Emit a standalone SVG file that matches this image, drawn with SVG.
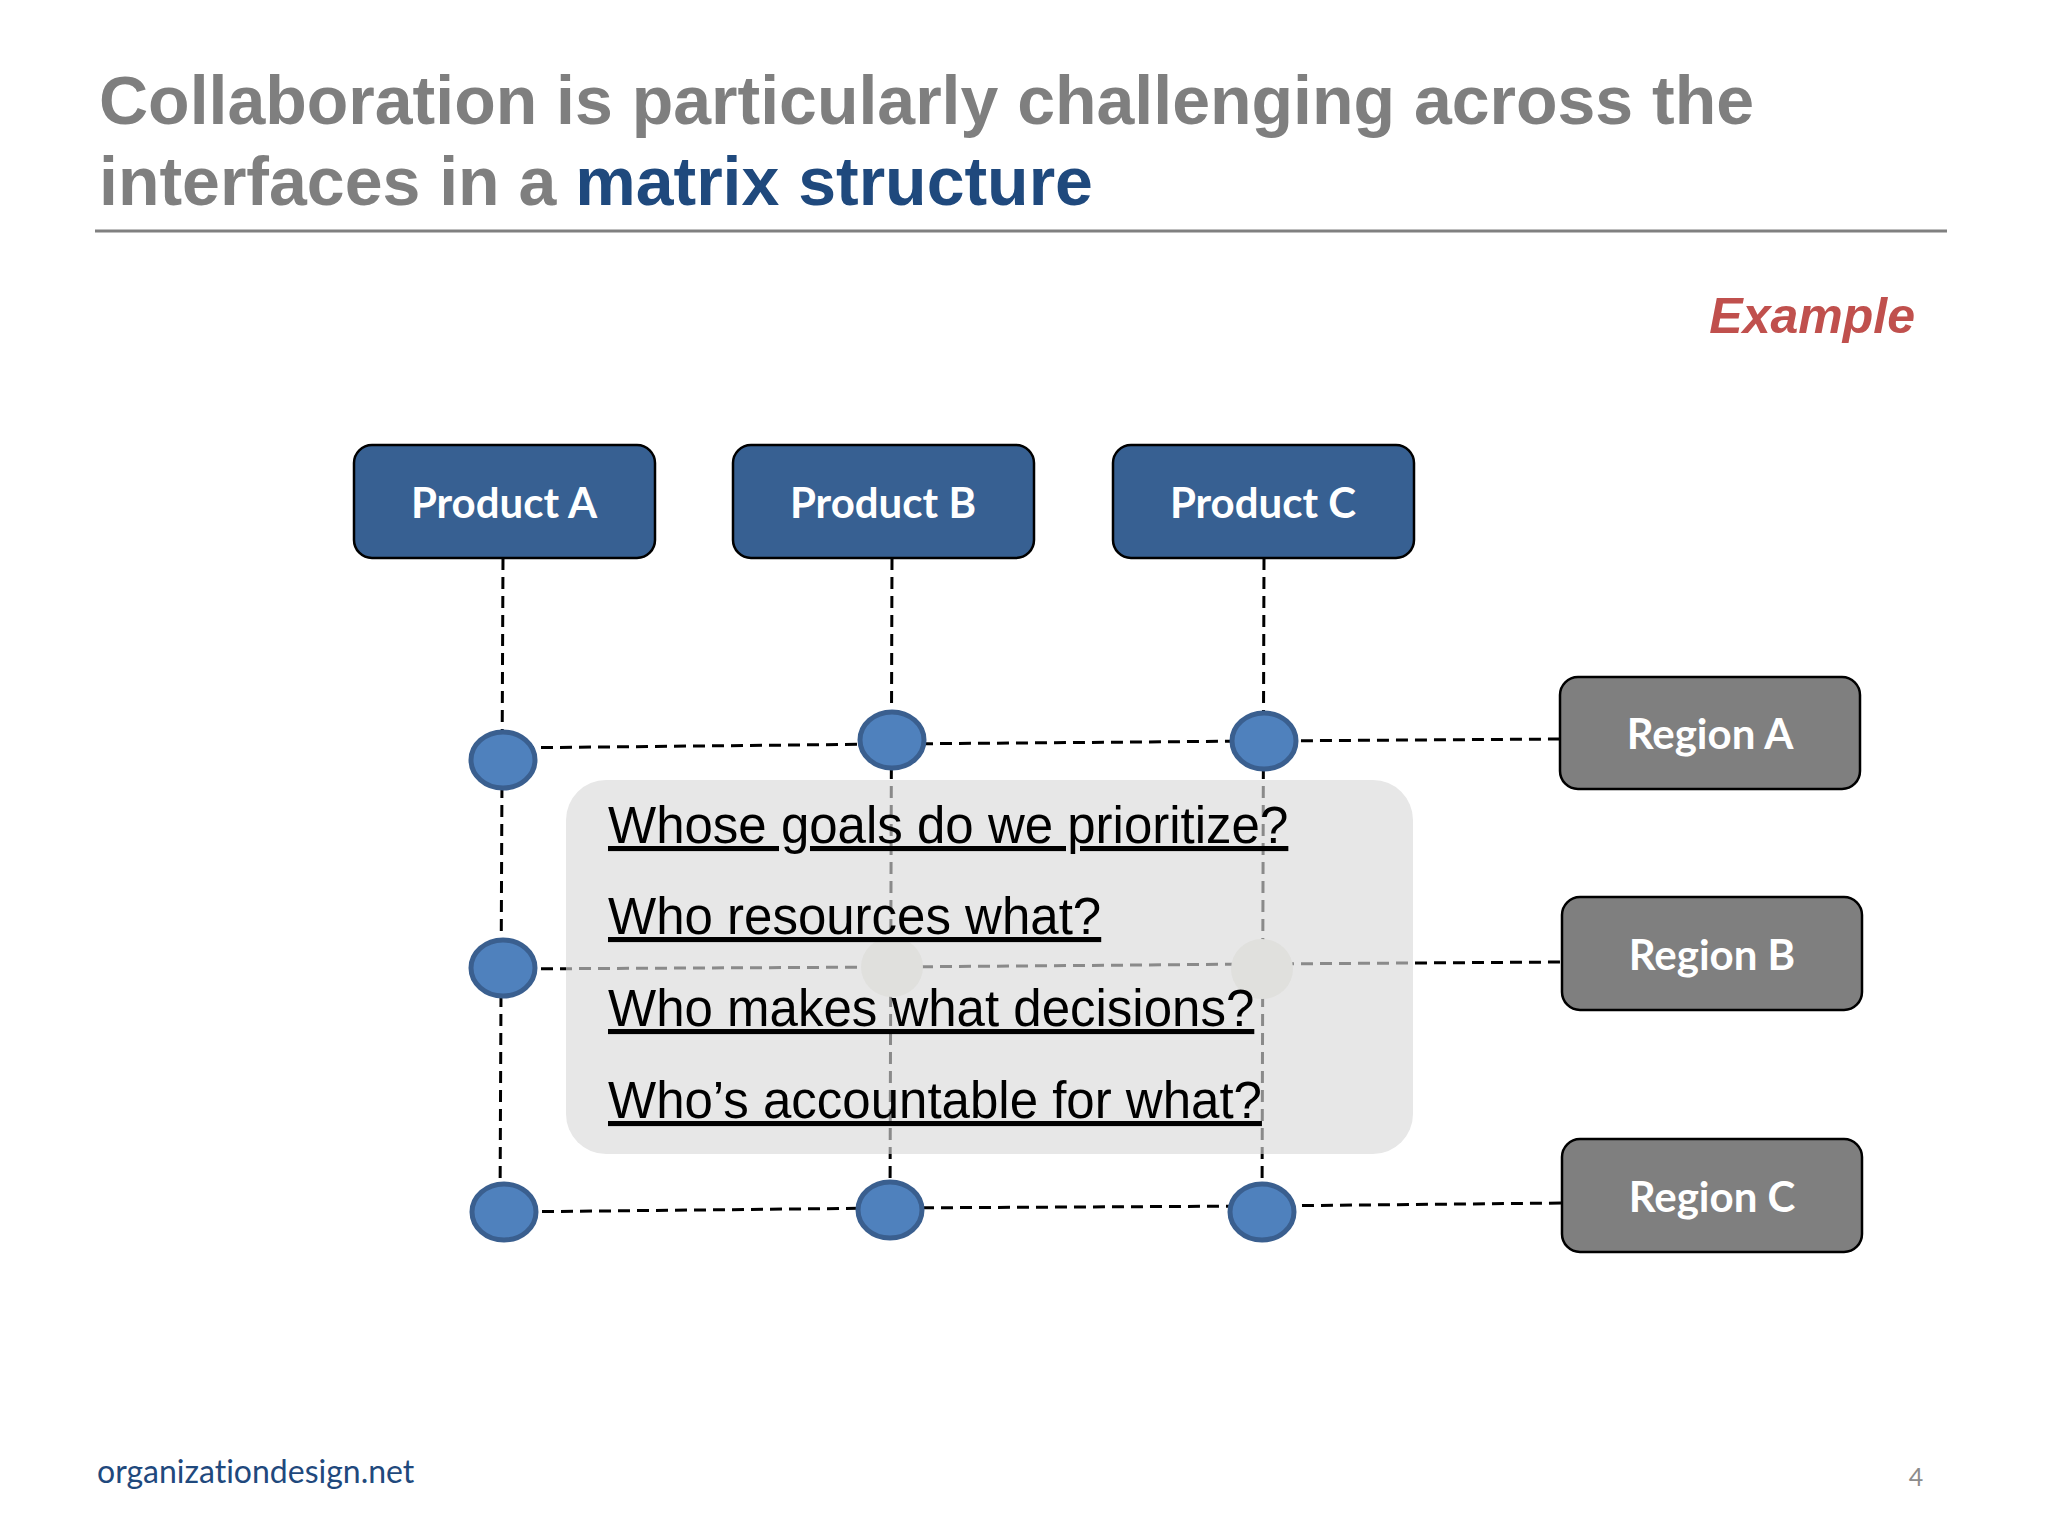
<svg xmlns="http://www.w3.org/2000/svg" width="2048" height="1536" viewBox="0 0 2048 1536">
<defs>
<style>
.title{font-family:"Liberation Sans",Arial,sans-serif;font-weight:bold;font-size:68px;fill:#7F7F7F}
.blue{fill:#1F497D}
.prod rect{fill:#376092;stroke:#000;stroke-width:2.5}
.reg rect{fill:#7F7F7F;stroke:#000;stroke-width:2.5}
.lbl{font-family:Lato,"Open Sans",sans-serif;font-weight:bold;font-size:42px;fill:#fff;text-anchor:middle}
.dot{fill:#4F81BD;stroke:#3A5F8F;stroke-width:5}
.ghost{fill:#E0E0DD}
.dash{fill:none;stroke:#000;stroke-width:3;stroke-dasharray:12 7}
.dashg{fill:none;stroke:#8A8A8A;stroke-width:3;stroke-dasharray:12 7}
.q{font-family:"Liberation Sans",Arial,sans-serif;font-size:51px;fill:#000;text-decoration:underline}
</style>
<clipPath id="boxclip"><rect x="566" y="780" width="847" height="374" rx="40"/></clipPath>
</defs>
<rect width="2048" height="1536" fill="#fff"/>
<g id="title">
<text class="title" x="99" y="124">Collaboration is particularly challenging across the</text>
<text class="title" x="99" y="205">interfaces in a <tspan class="blue">matrix structure</tspan></text>
<line x1="95" y1="231" x2="1947" y2="231" stroke="#808080" stroke-width="3"/>
</g>
<text id="example" x="1915" y="333" text-anchor="end" font-family="Liberation Sans,Arial,sans-serif" font-weight="bold" font-style="italic" font-size="50" fill="#C0504D">Example</text>
<g id="connectors">
<path class="dash" d="M503,558 L500,1212"/>
<path class="dash" d="M892,558 L890,1210"/>
<path class="dash" d="M1264,558 L1262,1212"/>
<path class="dash" d="M503,748 L892,744 L1264,741 L1560,739"/>
<path class="dash" d="M503,969 L892,967 L1262,964 L1562,962"/>
<path class="dash" d="M504,1212 L890,1208 L1262,1206 L1562,1203"/>
</g>
<g id="questions">
<rect x="566" y="780" width="847" height="374" rx="40" fill="#E7E7E7"/>
<g clip-path="url(#boxclip)">
<path class="dashg" d="M892,558 L890,1210"/>
<path class="dashg" d="M1264,558 L1262,1212"/>
<path class="dashg" d="M503,969 L892,967 L1262,964 L1562,962"/>
<ellipse class="ghost" cx="892" cy="967" rx="31" ry="30"/>
<ellipse class="ghost" cx="1262" cy="969" rx="31" ry="30"/>
</g>
<text class="q" x="608" y="843">Whose goals do we prioritize?</text>
<text class="q" x="608" y="934">Who resources what?</text>
<text class="q" x="608" y="1026">Who makes what decisions?</text>
<text class="q" x="608" y="1118">Who’s accountable for what?</text>
</g>
<g id="product-a" class="prod"><rect x="354" y="445" width="301" height="113" rx="18"/><text class="lbl" x="504" y="518">Product A</text></g>
<g id="product-b" class="prod"><rect x="733" y="445" width="301" height="113" rx="18"/><text class="lbl" x="883" y="518">Product B</text></g>
<g id="product-c" class="prod"><rect x="1113" y="445" width="301" height="113" rx="18"/><text class="lbl" x="1263" y="518">Product C</text></g>
<g id="region-a" class="reg"><rect x="1560" y="677" width="300" height="112" rx="18"/><text class="lbl" x="1710" y="749">Region A</text></g>
<g id="region-b" class="reg"><rect x="1562" y="897" width="300" height="113" rx="18"/><text class="lbl" x="1712" y="970">Region B</text></g>
<g id="region-c" class="reg"><rect x="1562" y="1139" width="300" height="113" rx="18"/><text class="lbl" x="1712" y="1212">Region C</text></g>
<g id="nodes">
<ellipse class="dot" cx="503" cy="760" rx="32" ry="28"/>
<ellipse class="dot" cx="892" cy="740" rx="32" ry="28"/>
<ellipse class="dot" cx="1264" cy="741" rx="32" ry="28"/>
<ellipse class="dot" cx="503" cy="968" rx="32" ry="28"/>
<ellipse class="dot" cx="504" cy="1212" rx="32" ry="28"/>
<ellipse class="dot" cx="890" cy="1210" rx="32" ry="28"/>
<ellipse class="dot" cx="1262" cy="1212" rx="32" ry="28"/>
</g>
<text id="footer" x="97" y="1483" font-family="Lato,'Open Sans',sans-serif" font-size="32" fill="#1F497D" style="font-variant-ligatures:none">organizationdesign.net</text>
<text id="page" x="1916" y="1486" text-anchor="middle" font-family="Lato,'Open Sans',sans-serif" font-size="25" fill="#8C8C8C">4</text>
</svg>
